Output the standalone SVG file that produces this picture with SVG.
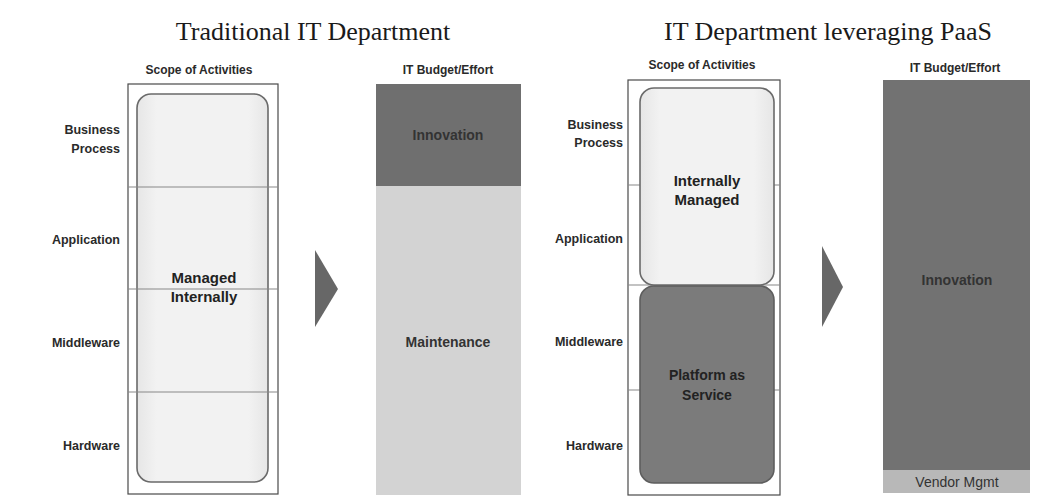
<svg xmlns="http://www.w3.org/2000/svg" width="1051" height="500" viewBox="0 0 1051 500">
  <defs>
    <style>
      .title { font-family: "Liberation Serif", "DejaVu Serif", serif; font-size: 26px; fill: #1a1a1a; text-anchor: middle; }
      .sub { font-family: "Liberation Sans", Arial, sans-serif; font-size: 12px; font-weight: bold; fill: #2a2a2a; text-anchor: middle; }
      .layer { font-family: "Liberation Sans", Arial, sans-serif; font-size: 12.5px; font-weight: bold; fill: #2a2a2a; text-anchor: end; }
      .label { font-family: "Liberation Sans", Arial, sans-serif; font-size: 15px; font-weight: bold; fill: #222; text-anchor: middle; }
      .blabel { font-family: "Liberation Sans", Arial, sans-serif; font-size: 14px; font-weight: bold; fill: #333; text-anchor: middle; }
      .frame { fill: none; stroke: #4a4a4a; stroke-width: 1.2; }
      .divider { stroke: #888; stroke-width: 1.2; }
      .box-light { fill: url(#lightFill); stroke: #6a6a6a; stroke-width: 1.6; }
      .box-dark { fill: #7b7b7b; stroke: #5e5e5e; stroke-width: 1.6; }
      .arrow { fill: #676767; }
    </style>
    <linearGradient id="lightFill" x1="0" y1="0" x2="1" y2="0">
      <stop offset="0" stop-color="#e6e6e6"/>
      <stop offset="0.15" stop-color="#f2f2f2"/>
      <stop offset="0.85" stop-color="#f2f2f2"/>
      <stop offset="1" stop-color="#e6e6e6"/>
    </linearGradient>
  </defs>

  <rect width="1051" height="500" fill="#ffffff"/>

  <!-- headings -->
  <text class="title" x="313" y="40">Traditional IT Department</text>
  <text class="title" x="828" y="40">IT Department leveraging PaaS</text>
  <text class="sub" x="199" y="74">Scope of Activities</text>
  <text class="sub" x="448" y="74">IT Budget/Effort</text>
  <text class="sub" x="702" y="69">Scope of Activities</text>
  <text class="sub" x="955" y="72">IT Budget/Effort</text>

  <!-- traditional: scope of activities -->
  <g id="traditional-scope">
    <rect class="frame" x="128" y="84" width="150" height="410"/>
    <rect class="box-light" x="137" y="94" width="131" height="388" rx="14"/>
    <line class="divider" x1="128" y1="187" x2="278" y2="187"/>
    <line class="divider" x1="128" y1="289" x2="278" y2="289"/>
    <line class="divider" x1="128" y1="392" x2="278" y2="392"/>
    <text class="label" x="204" y="283">Managed</text>
    <text class="label" x="204" y="302">Internally</text>
  </g>
  <g id="traditional-layers">
    <text class="layer" x="120" y="134">Business</text>
    <text class="layer" x="120" y="153">Process</text>
    <text class="layer" x="120" y="244">Application</text>
    <text class="layer" x="120" y="347">Middleware</text>
    <text class="layer" x="120" y="450">Hardware</text>
  </g>

  <!-- traditional: budget -->
  <g id="traditional-innovation">
    <rect x="376" y="84" width="145" height="102" fill="#6f6f6f"/>
    <text class="blabel" x="448" y="140" fill="#3a3a3a">Innovation</text>
  </g>
  <g id="traditional-maintenance">
    <rect x="376" y="186" width="145" height="309" fill="#d3d3d3"/>
    <text class="blabel" x="448" y="347">Maintenance</text>
  </g>

  <!-- PaaS: scope of activities -->
  <g id="paas-scope">
    <rect class="frame" x="628" y="80" width="152" height="415"/>
    <line class="divider" x1="628" y1="185" x2="780" y2="185"/>
    <line class="divider" x1="628" y1="285" x2="780" y2="285"/>
    <line class="divider" x1="628" y1="390" x2="780" y2="390"/>
  </g>
  <g id="paas-internal">
    <rect class="box-light" x="640" y="88" width="134" height="197" rx="14"/>
    <text class="label" x="707" y="186">Internally</text>
    <text class="label" x="707" y="205">Managed</text>
  </g>
  <g id="paas-platform">
    <rect class="box-dark" x="640" y="286" width="134" height="197" rx="14"/>
    <text class="label" x="707" y="380" style="font-size:14px">Platform as</text>
    <text class="label" x="707" y="400" style="font-size:14px">Service</text>
  </g>
  <g id="paas-layers">
    <text class="layer" x="623" y="129">Business</text>
    <text class="layer" x="623" y="147">Process</text>
    <text class="layer" x="623" y="243">Application</text>
    <text class="layer" x="623" y="346">Middleware</text>
    <text class="layer" x="623" y="450">Hardware</text>
  </g>

  <!-- PaaS: budget -->
  <g id="paas-innovation">
    <rect x="883" y="80" width="147" height="390" fill="#727272"/>
    <text class="blabel" x="957" y="285" fill="#3a3a3a">Innovation</text>
  </g>
  <g id="paas-vendor">
    <rect x="883" y="470" width="147" height="23" fill="#b8b8b8"/>
    <text class="blabel" x="957" y="487" style="font-weight:normal">Vendor Mgmt</text>
  </g>

  <!-- transition arrows -->
  <g id="connectors">
    <polygon class="arrow" points="315,250 338,289 315,327"/>
    <polygon class="arrow" points="822,246 843,287 822,327"/>
  </g>
</svg>
